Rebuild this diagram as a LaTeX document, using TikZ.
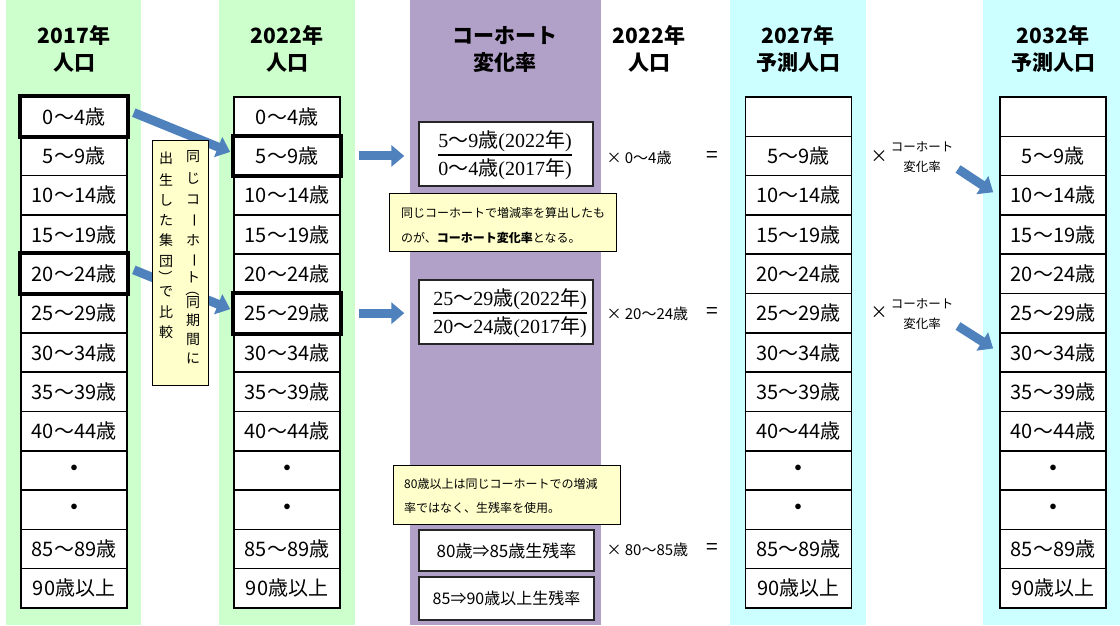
\documentclass[tikz,border=0pt]{standalone}
\usepackage{fontspec}
\setmainfont{Noto Sans CJK JP}
\newfontfamily\serifnum{Liberation Serif}
\usetikzlibrary{arrows.meta}
\definecolor{bggreen}{HTML}{CCFFCC}
\definecolor{bgpurple}{HTML}{B1A0C7}
\definecolor{bgcyan}{HTML}{CCFFFF}
\definecolor{noteyellow}{HTML}{FFFFCC}
\definecolor{arrowblue}{HTML}{4F81BD}
\newcommand{\sn}[1]{{\serifnum #1}}
\tikzset{
 agebox/.style={draw=black, line width=1.6pt, fill=white, minimum width=106pt, minimum height=39.3pt, inner sep=0pt, font=\fontsize{20}{20}\selectfont},
 hilite/.style={draw=black, line width=4pt},
 header/.style={font=\bfseries\fontsize{21}{27}\selectfont, align=center},
 bigarrow/.style={draw=arrowblue, fill=arrowblue, line width=9pt, -{Triangle[width=21pt,length=13pt]}},
 note/.style={draw=black, line width=1pt, fill=noteyellow, inner sep=0pt},
 notetext/.style={font=\fontsize{12}{12}\selectfont, anchor=west, inner sep=0pt},
 ratebox/.style={draw=black!85, line width=1.4pt, fill=white, inner sep=0pt},
 fractext/.style={font=\fontsize{20}{20}\selectfont, inner sep=0pt},
 fracline/.style={line width=2pt},
 smalltext/.style={font=\fontsize{15}{15}\selectfont},
 eqtext/.style={font=\fontsize{21}{21}\selectfont},
 timestext/.style={font=\fontsize{17}{17}\selectfont},
 tinytext/.style={font=\fontsize{12.5}{20}\selectfont, align=center},
 vchar/.style={font=\fontsize{14}{14}\selectfont, inner sep=0pt},
}
\begin{document}
\begin{tikzpicture}[x=1pt,y=-1pt]
\useasboundingbox (0,0) rectangle (1120,625);
% backgrounds
\fill[bggreen] (6,0) rectangle (141,625);
\fill[bggreen] (219,0) rectangle (355,625);
\fill[bgpurple] (410,0) rectangle (601,625);
\fill[bgcyan] (730,0) rectangle (866,625);
\fill[bgcyan] (983,0) rectangle (1120,625);
% headers
\node[header] (h1) at (74,49) {2017年\\人口};
\node[header] (h2) at (287,49) {2022年\\人口};
\node[header] (h3) at (505,49) {コーホート\\変化率};
\node[header] (h4) at (649,49) {2022年\\人口};
\node[header] (h5) at (798,49) {2027年\\予測人口};
\node[header] (h6) at (1053,49) {2032年\\予測人口};
% columns
\foreach \i/\lab in {0/0〜4歳,1/5〜9歳,2/10〜14歳,3/15〜19歳,4/20〜24歳,5/25〜29歳,6/30〜34歳,7/35〜39歳,8/40〜44歳,9/\textbf{・},10/\textbf{・},11/85〜89歳,12/90歳以上} {
  \node[agebox] (c1r\i) at (74,{97+39.3*(\i+0.5)}) {\lab};
  \node[agebox] (c2r\i) at (287,{97+39.3*(\i+0.5)}) {\lab};
}
\foreach \i/\lab in {0/{},1/5〜9歳,2/10〜14歳,3/15〜19歳,4/20〜24歳,5/25〜29歳,6/30〜34歳,7/35〜39歳,8/40〜44歳,9/\textbf{・},10/\textbf{・},11/85〜89歳,12/90歳以上} {
  \node[agebox] (c3r\i) at (798.5,{97+39.3*(\i+0.5)}) {\lab};
  \node[agebox] (c4r\i) at (1053,{97+39.3*(\i+0.5)}) {\lab};
}
\draw[hilite] (c1r0.north west) rectangle (c1r0.south east);
\draw[hilite] (c1r4.north west) rectangle (c1r4.south east);
\draw[hilite] (c2r1.north west) rectangle (c2r1.south east);
\draw[hilite] (c2r5.north west) rectangle (c2r5.south east);
% rate fractions
\node[ratebox, minimum width=174pt, minimum height=64pt] (f1) at (506,154) {};
\node[fractext] (f1n) at (505,141) {\sn{5}〜\sn{9}歳\sn{(2022}年\sn{)}};
\node[fractext] (f1d) at (505,169) {\sn{0}〜\sn{4}歳\sn{(2017}年\sn{)}};
\draw[fracline] ([yshift=-1]f1n.west |- f1.center) -- ([yshift=-1]f1n.east |- f1.center);
\node[ratebox, minimum width=174pt, minimum height=64pt] (f2) at (506,312) {};
\node[fractext] (f2n) at (510,299) {\sn{25}〜\sn{29}歳\sn{(2022}年\sn{)}};
\node[fractext] (f2d) at (510,327) {\sn{20}〜\sn{24}歳\sn{(2017}年\sn{)}};
\draw[fracline] ([yshift=-1]f2n.west |- f2.center) -- ([yshift=-1]f2n.east |- f2.center);
\node[ratebox, minimum width=175pt, minimum height=41pt, font=\fontsize{17}{17}\selectfont] (r1) at (506.5,550.5) {80歳⇒85歳生残率};
\node[ratebox, minimum width=175pt, minimum height=43pt, font=\fontsize{16}{16}\selectfont] (r2) at (506.5,598.5) {85⇒90歳以上生残率};
% multiplications
\node[smalltext, anchor=west] (m1) at (603,158) {× 0〜4歳};
\node[eqtext] (e1) at (712,157) {=};
\node[smalltext, anchor=west] (m2) at (603,314) {× 20〜24歳};
\node[eqtext] (e2) at (712,313) {=};
\node[smalltext, anchor=west] (m3) at (603,550) {× 80〜85歳};
\node[eqtext] (e3) at (712,549) {=};
\node[timestext] (x1) at (879,157) {×};
\node[tinytext] (cr1) at (922,157) {コーホート\\変化率};
\node[timestext] (x2) at (879,313) {×};
\node[tinytext] (cr2) at (922,314) {コーホート\\変化率};
% arrows
\draw[bigarrow] ([shift={(6,-4)}]c1r0.east) -- ([shift={(-3,-4)}]c2r1.west);
\draw[bigarrow] ([shift={(6,-4)}]c1r4.east) -- ([shift={(-3,-4)}]c2r5.west);
\draw[bigarrow] ([xshift=18]c2r1.east) -- ([xshift=-14]c2r1.east -| f1.west);
\draw[bigarrow] ([xshift=18]c2r5.east) -- ([xshift=-14]c2r5.east -| f2.west);
\coordinate (s3) at (958,169);
\coordinate (s4) at (958,326);
\draw[bigarrow] (s3) -- ([shift={(-6,-3)}]c4r2.west);
\draw[bigarrow] (s4) -- ([shift={(-6,-4)}]c4r6.west);
% vertical note
\node[note, minimum width=56pt, minimum height=245pt] (vnote) at (180,262.5) {};
\foreach \c/\yy in {同/157,じ/178,コ/200,ホ/240,ト/277,同/303,期/320,間/339,に/358}
  \node[vchar] at (193,\yy) {\c};
\node[vchar, rotate=-90] at (193,220) {ー};
\node[vchar, rotate=-90] at (193,260) {ー};
\node[vchar, rotate=-90] at (193,289) {（};
\foreach \c/\yy in {出/158,生/180,し/200,た/220,集/240,団/262,で/292,比/312,較/332}
  \node[vchar] at (166,\yy) {\c};
\node[vchar, rotate=-90] at (166,277) {）};
% notes
\node[note, minimum width=227pt, minimum height=58pt, anchor=north west] (n1) at (389,193) {};
\node[notetext] (n1a) at (401,213) {同じコーホートで増減率を算出したも};
\node[notetext] (n1b) at (401,238) {のが、\textbf{コーホート変化率}となる。};
\node[note, minimum width=227pt, minimum height=59pt, anchor=north west] (n2) at (393,465) {};
\node[notetext] (n2a) at (404,484) {80歳以上は同じコーホートでの増減};
\node[notetext] (n2b) at (404,508) {率ではなく、生残率を使用。};
\end{tikzpicture}
\end{document}
